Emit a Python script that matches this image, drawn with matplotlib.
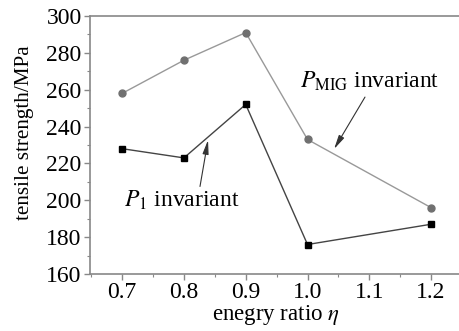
import matplotlib
matplotlib.use("Agg")
import matplotlib.pyplot as plt
from matplotlib.ticker import MultipleLocator

eta = [0.7, 0.8, 0.9, 1.0, 1.2]
p_mig = [258, 276, 291, 233, 196]
p_1 = [228, 223, 252, 176, 187]
xticks = [0.7, 0.8, 0.9, 1.0, 1.1, 1.2]
yticks = [160, 180, 200, 220, 240, 260, 280, 300]

plt.rcParams['font.family'] = ['Liberation Serif', 'DejaVu Serif']
plt.rcParams['mathtext.fontset'] = 'stix'

FS = 17

fig = plt.figure(figsize=(4.6, 3.31), dpi=100)
ax = fig.add_axes([90/460, 1-274/331, (462-90)/460, (274-16)/331])

ax.plot(eta, p_mig, color='#999999', lw=1.0, marker='o', ms=5, mfc='#707070', mec='#707070')
ax.plot(eta, p_1, color='#444444', lw=1.0, marker='s', ms=5, mfc='black', mec='black')

ax.set_xlim(0.648, 1.25)
ax.set_ylim(160, 300)
ax.set_xticks(xticks)
ax.set_yticks(yticks)
ax.set_xticklabels([f"{v:.1f}" for v in xticks])
ax.xaxis.set_minor_locator(MultipleLocator(0.05))
ax.yaxis.set_minor_locator(MultipleLocator(10))
for s in ['left', 'bottom', 'top']:
    ax.spines[s].set_color('#888888')
    ax.spines[s].set_linewidth(1.2)
ax.spines['right'].set_visible(False)
ax.tick_params(which='both', direction='out', colors='#888888', labelcolor='black', labelsize=FS, top=False, right=False, pad=2)
ax.tick_params(which='major', length=4, width=1)
ax.tick_params(which='minor', length=2, width=0.8)

ax.set_ylabel('tensile strength/MPa', fontsize=15.2, va='center')
ax.yaxis.set_label_coords(-0.177, 0.547)
ax.set_xlabel(r'enegry ratio $\eta$', fontsize=16.5, labelpad=0)

astyle = dict(arrowstyle='-|>,head_length=0.7,head_width=0.15', color='#333333', lw=0.8,
              mutation_scale=12, shrinkA=0, shrinkB=0)
ax.text(1.100, 264.5, r'$P_{\rm MIG}$ invariant', fontsize=FS, ha='center', va='center')
ax.annotate('', xy=(1.043, 227.8), xytext=(1.093, 256.0), arrowprops=astyle)
ax.text(0.797, 200, r'$P_1$ invariant', fontsize=FS, ha='center', va='center')
ax.annotate('', xy=(0.839, 232.7), xytext=(0.826, 207.5), arrowprops=astyle)

fig.savefig('out.png', dpi=100)
